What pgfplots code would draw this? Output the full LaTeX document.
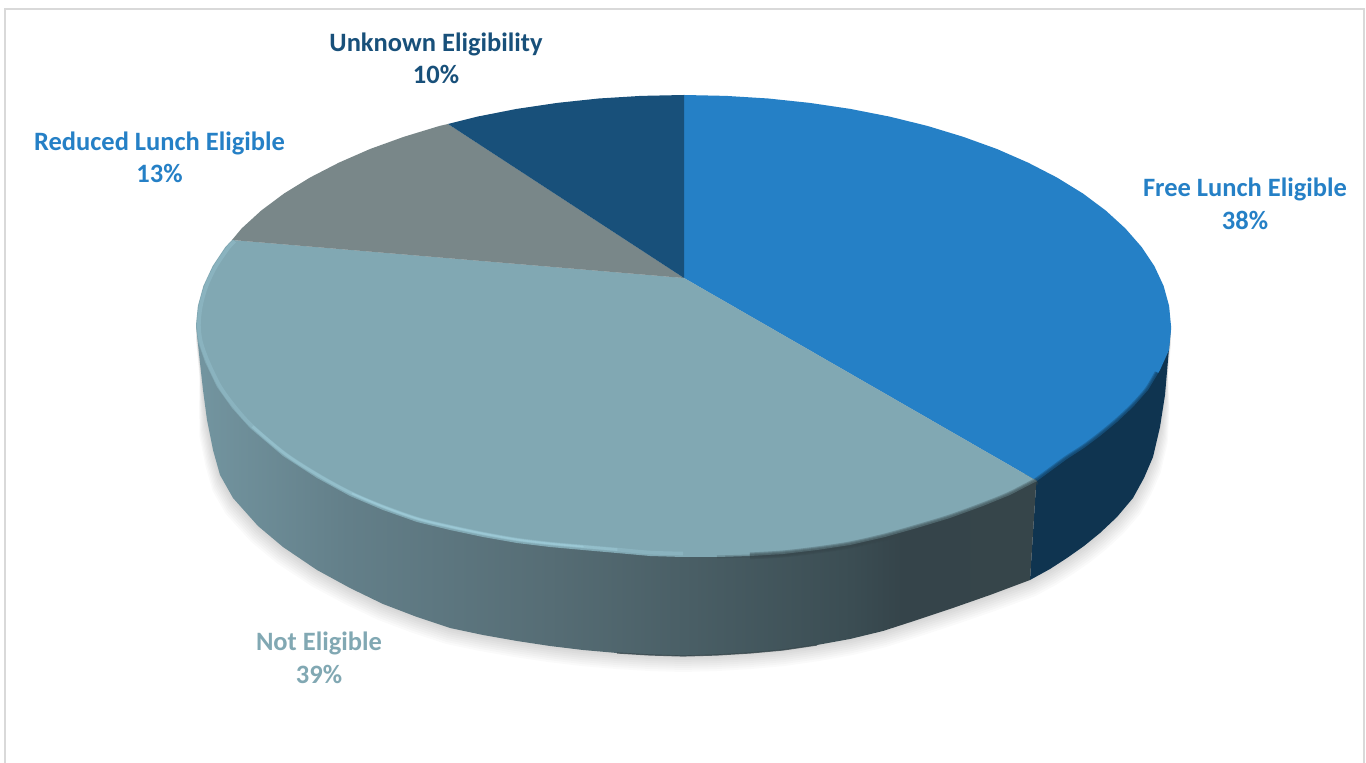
\documentclass[border=0pt]{standalone}
\usepackage{pgfplots}
\usepackage{pgfplotstable}
\usepackage{fontspec}
\pgfplotsset{compat=1.18}
\setmainfont{Carlito}

\definecolor{freeTop}{HTML}{2580C6}
\definecolor{freeSide}{HTML}{0F3450}
\definecolor{notTop}{HTML}{81A8B3}
\definecolor{notRim}{HTML}{A4D3E0}
\definecolor{notDark}{HTML}{36454A}
\definecolor{reducedTop}{HTML}{798789}
\definecolor{unknownTop}{HTML}{18507A}
\definecolor{frameGrey}{HTML}{D9D9D9}
\definecolor{wallA}{HTML}{7395A0}
\definecolor{wallB}{HTML}{637F89}
\definecolor{wallC}{HTML}{566D75}
\definecolor{wallD}{HTML}{4A5F66}
\definecolor{wallE}{HTML}{3B4D53}
\definecolor{wallF}{HTML}{35444A}

% Side wall of the largest slice: light on the left, dark towards the right
\pgfdeclarehorizontalshading{wallshade}{100bp}{
  color(0bp)=(wallA);
  color(25bp)=(wallA);
  color(34bp)=(wallB);
  color(46bp)=(wallC);
  color(54bp)=(wallD);
  color(64bp)=(wallE);
  color(67bp)=(wallF);
  color(75bp)=(notDark);
  color(100bp)=(notDark)}

% Outer outline of the disc, used for the ground shadow
\pgfplotstableread{
x y
196 325
198 306
213 266
241 228
284 193
339 163
404 137
478 117
557 103
641 96
684 95
726 96
810 103
890 117
963 137
1028 163
1083 193
1125 228
1154 266
1169 306
1171 330
1168 360
1165 395
1160 427
1153 457
1144 478
1133 498
1117 517
1100 533
1084 546
1067 558
1050 569
1030 580
990 595
950 609
917 620
883 631
850 639
817 645
783 650
750 653
717 655
683 656
650 655
617 653
583 650
550 646
517 641
483 635
450 628
417 617
383 604
350 588
317 570
283 547
258 526
233 498
220 475
213 450
207 420
203 390
200 363
}\silhouette

% Wall polygons; their upper edges run underneath the top face
\pgfplotstableread{
x y
1171 326
1168 360
1165 395
1160 427
1153 457
1144 478
1133 498
1117 517
1100 533
1084 546
1067 558
1050 569
1030 580
1037 470
1100 420
1160 350
}\wallFree

\pgfplotstableread{
x y
1030 580
990 595
950 609
917 620
883 631
850 639
817 645
783 650
750 653
717 655
683 656
650 655
617 653
583 650
550 646
517 641
483 635
450 628
417 617
383 604
350 588
317 570
283 547
258 526
233 498
220 475
213 450
207 420
203 390
200 363
196 325
210 320
250 400
350 480
550 530
700 540
850 530
1037 470
}\wallNot

% Rim arcs of the top face
\pgfplotstableread{
x y
1037 481
1052 470
1067 459
1084 448
1100 436
1117 422
1133 407
1148 390
1158 373
}\rimFree

\pgfplotstableread{
x y
1037 481
1010 495
983 506
950 518
917 528
885 537
850 545
817 550
783 554
750 556
717 557
683 557
650 556
617 553
583 550
550 547
517 543
483 537
450 530
417 522
383 510
350 496
317 478
283 456
250 428
232 408
217 387
205 362
198 342
196 325
197.9 305.9
203.4 285.9
212.6 266.2
225.4 247
232 240
}\rimNot

% Top face, one polygon per slice
\pgfplotstableread{
x y
684 278
684 95
726 95.9
768.2 98.5
809.7 102.9
850.2 108.9
889.5 116.6
927.3 125.9
963.1 136.8
996.9 149
1028.2 162.7
1056.9 177.5
1082.9 193.5
1105.7 210.5
1125.3 228.4
1141.6 247
1154.4 266.2
1163.6 285.9
1169.1 305.9
1171 326
1171 330
1169 350
1160 370
1148 390
1133 407
1117 422
1100 436
1084 448
1067 459
1052 470
1037 481
}\topFree

\pgfplotstableread{
x y
684 278
1037 481
1010 495
983 506
950 518
917 528
885 537
850 545
817 550
783 554
750 556
717 557
683 557
650 556
617 553
583 550
550 547
517 543
483 537
450 530
417 522
383 510
350 496
317 478
283 456
250 428
232 408
217 387
205 362
198 342
196 325
197.9 305.9
203.4 285.9
212.6 266.2
225.4 247
232 240
}\topNot

\pgfplotstableread{
x y
684 278
232 240
241.7 228.4
261.3 210.5
284.1 193.5
310.1 177.5
338.8 162.7
370.1 149
403.9 136.8
439.7 125.9
448 124
}\topReduced

\pgfplotstableread{
x y
684 278
448 124
477.5 116.6
516.8 108.9
557.3 102.9
598.8 98.5
641 95.9
684 95
}\topUnknown

\begin{document}
\begin{tikzpicture}
\useasboundingbox (0,0) rectangle (683pt,381.5pt);
\fill[white] (0,0) rectangle (683pt,381.5pt);
\begin{axis}[
  at={(0,0)}, anchor=south west,
  scale only axis, width=683pt, height=381.5pt,
  xmin=0, xmax=1366, ymin=0, ymax=763,
  y dir=reverse, hide axis,
  no markers,
]
% Ground shadow: stacked translucent outlines, widening only below the rim
\pgfplotsinvokeforeach{1,...,8}{
  \addplot[draw=none, fill=black, fill opacity=0.02]
    table[x expr={683.5+(\thisrow{x}-683.5)*(1+0.002*#1*min(1,max(0,(\thisrow{y}-360)/60)))},
          y expr={\thisrow{y}+2*#1}] {\silhouette};
}
% Walls
\addplot[draw=none, fill=freeSide] table[x=x,y=y] {\wallFree};
\addplot[draw=none, shading=wallshade] table[x=x,y=y] {\wallNot};
% Thin dark line at the foot of the wall
\addplot[notDark, line width=0.6pt, opacity=0.8, restrict x to domain=590:830]
  table[x=x,y=y] {\wallNot};
% Top face
\addplot[draw=none, fill=freeTop] table[x=x,y=y] {\topFree};
\addplot[draw=none, fill=notTop] table[x=x,y=y] {\topNot};
\addplot[draw=none, fill=reducedTop] table[x=x,y=y] {\topReduced};
\addplot[draw=none, fill=unknownTop] table[x=x,y=y] {\topUnknown};
% Soft dark bevel along the right-hand rim
\pgfplotsinvokeforeach{3.5,2.5,1.5}{
  \addplot[freeSide, smooth, line width=#1pt, opacity=0.3, line join=round] table[x=x,y=y] {\rimFree};
  \addplot[notDark, smooth, line width=#1pt, opacity=0.3, line join=round,
    restrict x to domain=750:1037] table[x=x,y=y] {\rimNot};
}
\addplot[notDark, smooth, line width=1.5pt, opacity=0.25, line join=round,
  restrict x to domain=690:760] table[x=x,y=y] {\rimNot};
% Bright bevel along the left-hand rim
\addplot[notRim, smooth, line width=1.8pt, opacity=0.28, line join=round, restrict x to domain=190:700]
  table[x expr={683.5+(\thisrow{x}-683.5)*0.994}, y expr={326+(\thisrow{y}-326)*0.985}] {\rimNot};
\addplot[notRim, smooth, line width=1.3pt, opacity=0.35, line join=round, restrict x to domain=240:640]
  table[x expr={683.5+(\thisrow{x}-683.5)*0.994}, y expr={326+(\thisrow{y}-326)*0.985}] {\rimNot};
\addplot[notRim, smooth, line width=0.8pt, opacity=0.5, line join=round, restrict x to domain=340:590]
  table[x expr={683.5+(\thisrow{x}-683.5)*0.994}, y expr={326+(\thisrow{y}-326)*0.985}] {\rimNot};
% Slice labels
\node[anchor=base, font=\bfseries\fontsize{13.25}{15}\selectfont, text=freeTop] at (axis cs:1245,196.5) {Free Lunch Eligible};
\node[anchor=base, font=\bfseries\fontsize{13.25}{15}\selectfont, text=freeTop] at (axis cs:1245,229.5) {38\%};
\node[anchor=base, font=\bfseries\fontsize{13.25}{15}\selectfont, text=freeTop] at (axis cs:159.5,150.5) {Reduced Lunch Eligible};
\node[anchor=base, font=\bfseries\fontsize{13.25}{15}\selectfont, text=freeTop] at (axis cs:159.5,183) {13\%};
\node[anchor=base, font=\bfseries\fontsize{13.25}{15}\selectfont, text=unknownTop] at (axis cs:436,51.5) {Unknown Eligibility};
\node[anchor=base, font=\bfseries\fontsize{13.25}{15}\selectfont, text=unknownTop] at (axis cs:436,84) {10\%};
\node[anchor=base, font=\bfseries\fontsize{13.25}{15}\selectfont, text=notTop] at (axis cs:319,651) {Not Eligible};
\node[anchor=base, font=\bfseries\fontsize{13.25}{15}\selectfont, text=notTop] at (axis cs:319,684) {39\%};
% Chart frame, open at the bottom
\addplot[frameGrey, line width=1pt] coordinates {(5,763) (5,9) (1363.5,9) (1363.5,763)};
\end{axis}
\end{tikzpicture}
\end{document}
